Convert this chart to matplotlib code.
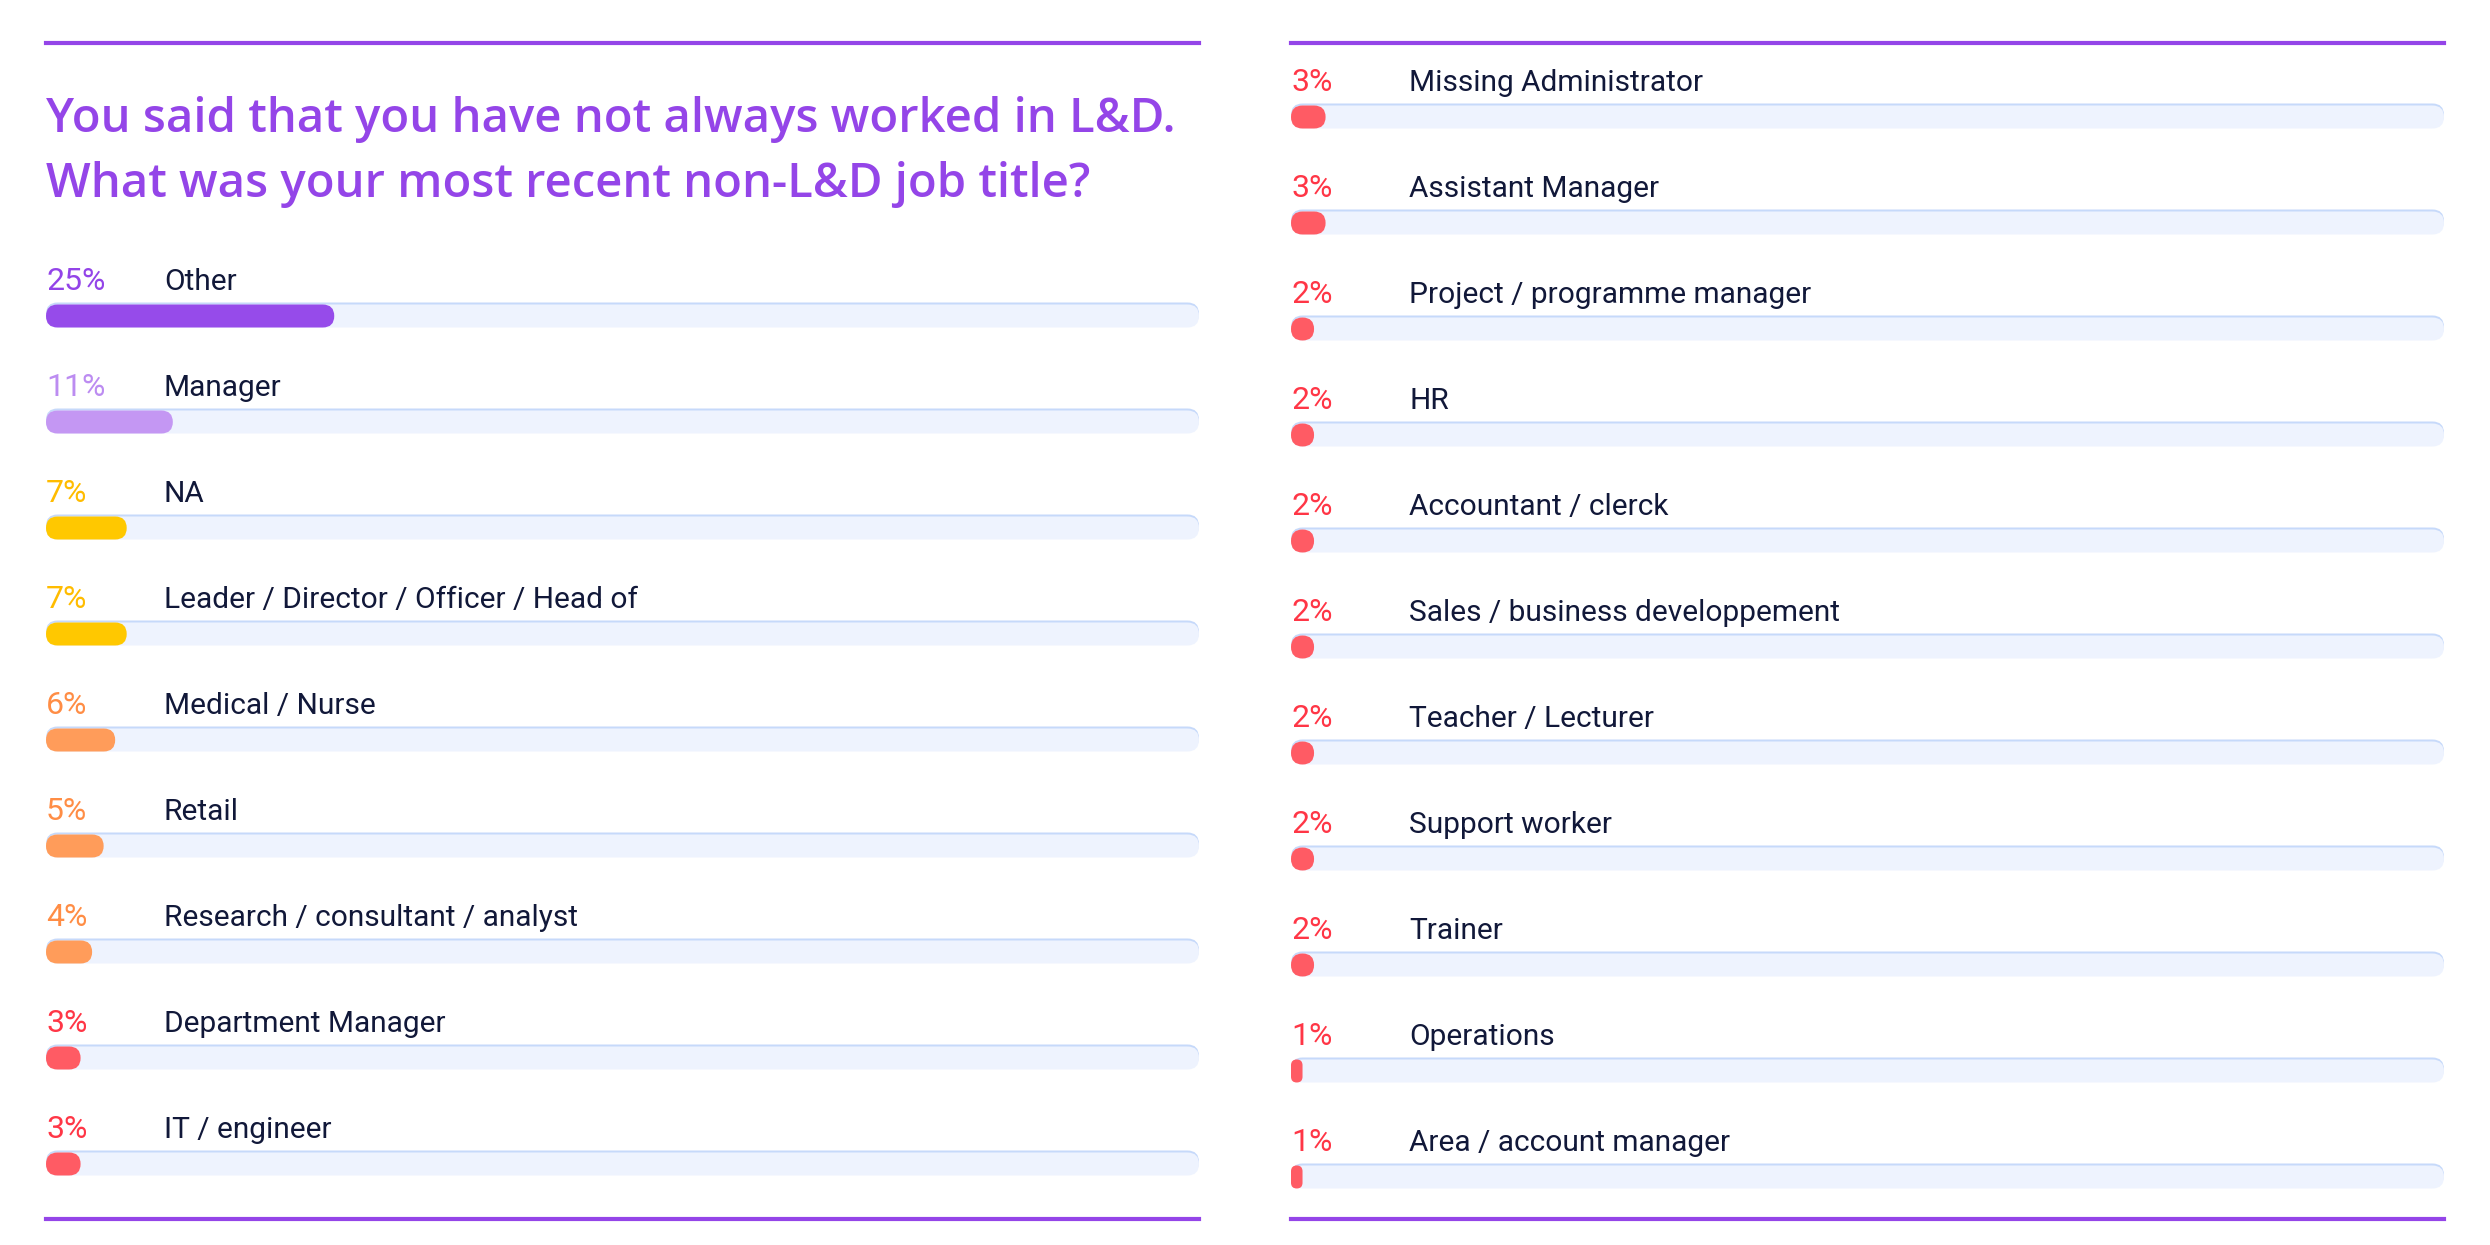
import matplotlib
matplotlib.use('Agg')
import matplotlib.pyplot as plt
from matplotlib.patches import FancyBboxPatch

# survey answers, left column then right column
left_titles = ['Other', 'Manager', 'NA', 'Leader / Director / Officer / Head of',
               'Medical / Nurse', 'Retail', 'Research / consultant / analyst',
               'Department Manager', 'IT / engineer']
left_values = [25, 11, 7, 7, 6, 5, 4, 3, 3]

right_titles = ['Missing Administrator', 'Assistant Manager', 'Project / programme manager',
                'HR', 'Accountant / clerck', 'Sales / business developpement',
                'Teacher / Lecturer', 'Support worker', 'Trainer', 'Operations',
                'Area / account manager']
right_values = [3, 3, 2, 2, 2, 2, 2, 2, 2, 1, 1]

title_lines = ['You said that you have not always worked in L&D.',
               'What was your most recent non-L&D job title?']

PURPLE = '#9445E8'
NAVY = '#111839'
TRACK = '#EEF3FE'
TRACK_EDGE = '#C6D9FA'

W, H = 2490, 1245
ROW = 106       # px between rows
BAR_H = 23      # px
PANEL_W = 1153  # px
PANEL_TOP, PANEL_BOT = 43, 1219

plt.rcParams['font.family'] = ['Roboto', 'DejaVu Sans']


def bar_colors(v):
    # returns (bar colour, percent text colour)
    if v >= 20:
        return '#964BEA', '#9344E8'
    if v >= 10:
        return '#C497F3', '#BC8CF1'
    if v >= 7:
        return '#FFC800', '#FFBC00'
    if v >= 4:
        return '#FF9C5A', '#FF8D45'
    return '#FF5B64', '#FF3646'


def rounded(ax, x, y, w, h_px, color, xu, yu, z):
    r_px = min(h_px / 2, w / xu / 2)
    h = h_px * yu
    box = FancyBboxPatch((x, y - h / 2), w, h,
                         boxstyle='round,pad=0,rounding_size=%f' % (r_px * xu),
                         mutation_aspect=yu / xu, facecolor=color,
                         edgecolor='none', zorder=z)
    ax.add_patch(box)


def panel(left_px, first_row_px, titles, values):
    bottom = (H - PANEL_BOT) / H
    height = (PANEL_BOT - PANEL_TOP) / H
    ax = fig.add_axes([left_px / W, bottom, PANEL_W / W, height])
    top_row = (PANEL_TOP - first_row_px) / ROW
    bot_row = (PANEL_BOT - first_row_px) / ROW
    ax.set_xlim(0, 100)
    ax.set_ylim(bot_row, top_row)
    xu = 100 / PANEL_W  # data units per pixel
    yu = 1 / ROW
    for s in ['left', 'right']:
        ax.spines[s].set_visible(False)
    for s in ['top', 'bottom']:
        ax.spines[s].set_color(PURPLE)
        ax.spines[s].set_linewidth(3)
    ax.set_xticks([])
    ax.set_yticks([])

    for i, (t, v) in enumerate(zip(titles, values)):
        bc, tc = bar_colors(v)
        # track with a thin blue top edge
        rounded(ax, 0, i - 2 * yu, 100, BAR_H, TRACK_EDGE, xu, yu, 1)
        rounded(ax, 0, i, 100, BAR_H, TRACK, xu, yu, 2)
        rounded(ax, 0, i, v, BAR_H, bc, xu, yu, 3)
        ax.text(0, i - 26 * yu, '%d%%' % v, color=tc, fontsize=23,
                va='baseline', ha='left')
        ax.text(118 * xu, i - 26 * yu, t, color=NAVY, fontsize=21.5,
                va='baseline', ha='left')
    return ax, xu, yu


fig = plt.figure(figsize=(W / 100, H / 100), dpi=100)
fig.patch.set_facecolor('white')

ax1, xu, yu = panel(46, 316, left_titles, left_values)
ax2, _, _ = panel(1291, 117, right_titles, right_values)

# question title above the left column
for line, base_px in zip(title_lines, [132, 197]):
    ax1.text(0, (base_px - 316) / ROW, line, color=PURPLE, fontsize=34,
             family=['Open Sans', 'DejaVu Sans'], fontweight='semibold',
             va='baseline', ha='left')

plt.savefig('out.png', dpi=100, facecolor='white')
